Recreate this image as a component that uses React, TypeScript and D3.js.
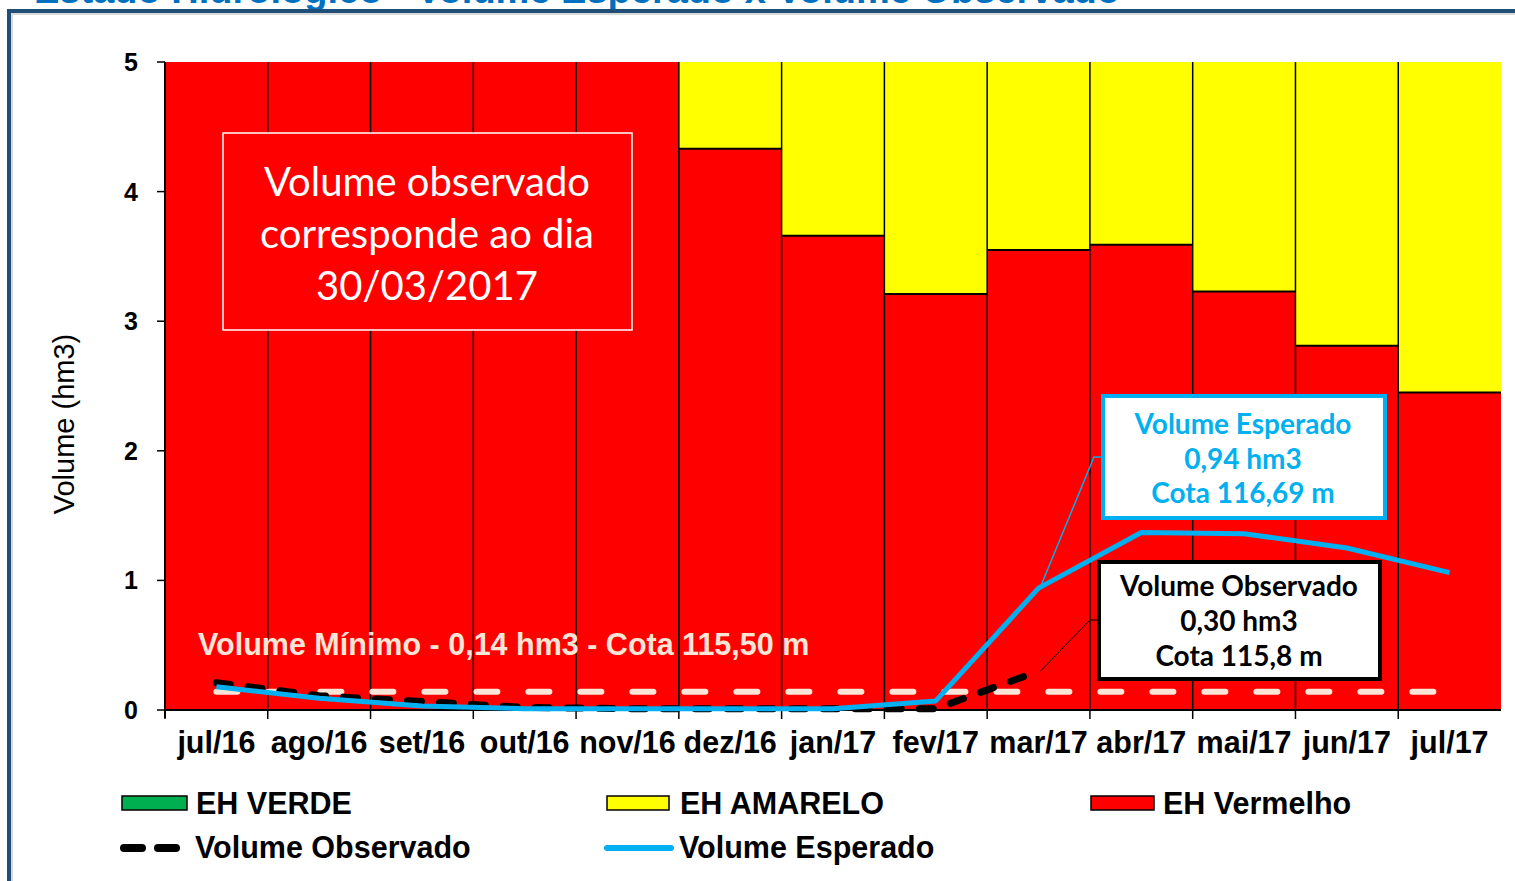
import React from "react";
import * as d3 from "d3";

const months = ["jul/16","ago/16","set/16","out/16","nov/16","dez/16","jan/17","fev/17","mar/17","abr/17","mai/17","jun/17","jul/17"];
const ehVerde = [0,0,0,0,0,0,0,0,0,0,0,0,0];
const ehVermelho = [5,5,5,5,5,4.33,3.66,3.21,3.55,3.59,3.23,2.81,2.45];
const ehAmarelo = [0,0,0,0,0,0.67,1.34,1.79,1.45,1.41,1.77,2.19,2.55];
const volumeEsperado = [0.18,0.09,0.03,0.01,0.01,0.01,0.01,0.07,0.94,1.37,1.36,1.25,1.06];
const volumeObservado = [0.21,0.11,0.065,0.02,0.01,0.01,0.01,0.01,0.30];
const volumeMinimo = 0.14;
const yTicks = [0,1,2,3,4,5];

const RED = "#ff0000";
const YELLOW = "#ffff00";
const GREEN = "#00b050";
const BLUE = "#00b0f0";
const CREAM = "#fbe5d6";
const ARIAL = "'Liberation Sans', Arial, sans-serif";
const CAL = "Lato, 'Open Sans', sans-serif";

export default function App() {
  const W = 1515, H = 881;
  const x = d3.scaleBand<string>().domain(months).range([165, 1501]).padding(0);
  const y = d3.scaleLinear().domain([0, 5]).range([710, 62]);
  const bw = x.bandwidth();
  const cx = (i: number) => (x(months[i]) as number) + bw / 2;

  const line = d3.line<number>().x((_, i) => cx(i)).y((d) => y(d));

  const esperadoPath = line(volumeEsperado) || "";
  const observadoPath = line(volumeObservado) || "";

  const iMar = months.indexOf("mar/17");

  return (
    <svg width={W} height={H} style={{ position: "absolute", left: 0, top: 0, background: "#fff" }}>
      {/* title (cut off at top edge, as in the source) */}
      <text x={34} y={3} fontFamily={ARIAL} fontWeight="bold" fontSize={38} fill="#0070c0">
        Estado Hidrológico - Volume Esperado x Volume Observado
      </text>
      {/* frame */}
      <path d="M9,1000 V11 H1600" fill="none" stroke="#1f4e79" strokeWidth={4} />
      <path d="M12,1000 V14 H1600" fill="none" stroke="#d9d9d9" strokeWidth={2} />

      {/* stacked bars */}
      {months.map((m, i) => {
        const x0 = x(m) as number;
        const r = ehVermelho[i];
        const a = ehAmarelo[i];
        const g = ehVerde[i];
        return (
          <g key={m}>
            <rect x={x0} y={y(r)} width={bw} height={y(0) - y(r)} fill={RED} />
            <rect x={x0} y={y(r + a)} width={bw} height={y(r) - y(r + a)} fill={YELLOW} />
            {g > 0 && <rect x={x0} y={y(r + a + g)} width={bw} height={y(r + a) - y(r + a + g)} fill={GREEN} />}
            {r < 5 && <line x1={x0} x2={x0 + bw} y1={y(r)} y2={y(r)} stroke="#000" strokeWidth={2} />}
          </g>
        );
      })}
      {months.slice(1).map((m) => (
        <line key={"v" + m} x1={x(m)} x2={x(m)} y1={y(5)} y2={y(0)} stroke="#000" strokeWidth={1.5} />
      ))}

      {/* axes */}
      <line x1={165} x2={165} y1={y(5)} y2={y(0) + 8} stroke="#000" strokeWidth={2} />
      <line x1={165} x2={1501} y1={y(0)} y2={y(0)} stroke="#000" strokeWidth={2} />
      {yTicks.map((t) => (
        <g key={"yt" + t}>
          <line x1={157} x2={165} y1={y(t)} y2={y(t)} stroke="#000" strokeWidth={1.5} />
          <text x={138} y={y(t) + 9} textAnchor="end" fontFamily={ARIAL} fontWeight="bold" fontSize={25} fill="#000">
            {t}
          </text>
        </g>
      ))}
      {months.map((m, i) => (
        <g key={"xt" + m}>
          <line x1={x(m)} x2={x(m)} y1={y(0)} y2={y(0) + 9} stroke="#000" strokeWidth={1.5} />
          <text x={cx(i)} y={753} textAnchor="middle" fontFamily={ARIAL} fontWeight="bold" fontSize={30.5} fill="#000">
            {m}
          </text>
        </g>
      ))}
      <text transform={`translate(74,424) rotate(-90)`} textAnchor="middle" fontFamily={ARIAL} fontSize={29} fill="#000">
        Volume (hm3)
      </text>

      {/* minimum volume */}
      <line x1={cx(0)} x2={cx(months.length - 1)} y1={y(volumeMinimo)} y2={y(volumeMinimo)} stroke={CREAM}
        strokeWidth={6} strokeDasharray="21 31" strokeLinecap="round" />
      <text x={198} y={655} fontFamily={ARIAL} fontWeight="bold" fontSize={30.5} fill={CREAM}>
        Volume Mínimo - 0,14 hm3 - Cota 115,50 m
      </text>

      {/* lines */}
      <path d={observadoPath} fill="none" stroke="#000" strokeWidth={7} strokeDasharray="14 18" strokeLinecap="round" strokeLinejoin="round" />
      <path d={esperadoPath} fill="none" stroke={BLUE} strokeWidth={5} strokeLinejoin="round" />

      {/* annotation box observed date */}
      <rect x={223} y={133} width={409} height={197} fill={RED} stroke="#fff" strokeWidth={1.5} />
      {["Volume observado", "corresponde ao dia", "30/03/2017"].map((t, k) => (
        <text key={t} x={427} y={196 + k * 52} textAnchor="middle" fontFamily={CAL} fontSize={40} fill="#fff">
          {t}
        </text>
      ))}

      {/* leader lines */}
      <polyline points={`${cx(iMar) + 3},${y(volumeEsperado[iMar]) - 4} 1094,457 1104,457`} fill="none" stroke={BLUE} strokeWidth={1.5} />
      <polyline points={`${cx(iMar) + 2},${y(volumeObservado[iMar])} 1090,620 1100,620`} fill="none" stroke="#000" strokeWidth={1} />

      {/* esperado box */}
      <rect x={1103} y={396} width={282} height={122} fill="#fff" stroke={BLUE} strokeWidth={4} />
      {["Volume Esperado", "0,94 hm3", "Cota 116,69 m"].map((t, k) => (
        <text key={t} x={1243} y={434 + k * 34.5} textAnchor="middle" fontFamily={CAL} fontWeight="bold" fontSize={28} fill={BLUE}>
          {t}
        </text>
      ))}

      {/* observado box */}
      <rect x={1099} y={562} width={281} height={117} fill="#fff" stroke="#000" strokeWidth={4} />
      {["Volume Observado", "0,30 hm3", "Cota 115,8 m"].map((t, k) => (
        <text key={t} x={1239} y={596 + k * 35} textAnchor="middle" fontFamily={CAL} fontWeight="bold" fontSize={28} fill="#000">
          {t}
        </text>
      ))}

      {/* legend */}
      <rect x={122} y={796} width={65} height={14} fill={GREEN} stroke="#000" strokeWidth={1.5} />
      <text x={196} y={814} fontFamily={ARIAL} fontWeight="bold" fontSize={30.5} fill="#000">EH VERDE</text>
      <rect x={607} y={796} width={62} height={14} fill={YELLOW} stroke="#000" strokeWidth={1.5} />
      <text x={680} y={814} fontFamily={ARIAL} fontWeight="bold" fontSize={30.5} fill="#000">EH AMARELO</text>
      <rect x={1091} y={796} width={63} height={14} fill={RED} stroke="#000" strokeWidth={1.5} />
      <text x={1163} y={814} fontFamily={ARIAL} fontWeight="bold" fontSize={30.5} fill="#000">EH Vermelho</text>

      <line x1={124} x2={176} y1={848} y2={848} stroke="#000" strokeWidth={8} strokeDasharray="18 16" strokeLinecap="round" />
      <text x={195} y={858} fontFamily={ARIAL} fontWeight="bold" fontSize={30.5} fill="#000">Volume Observado</text>
      <line x1={607} x2={671} y1={848} y2={848} stroke={BLUE} strokeWidth={6} strokeLinecap="round" />
      <text x={679} y={858} fontFamily={ARIAL} fontWeight="bold" fontSize={30.5} fill="#000">Volume Esperado</text>
    </svg>
  );
}
